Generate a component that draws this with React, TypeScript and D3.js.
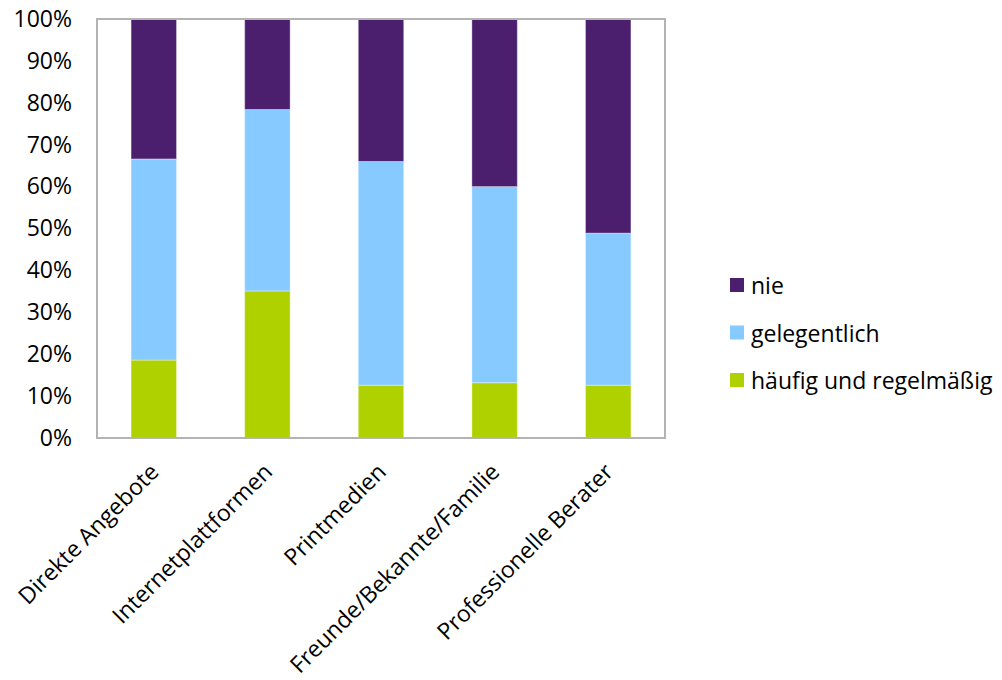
import React, { useEffect, useRef } from 'react';
import * as d3 from 'd3';

// Data
const categories = [
  'Direkte Angebote',
  'Internetplattformen',
  'Printmedien',
  'Freunde/Bekannte/Familie',
  'Professionelle Berater',
];
const haeufig = [18.6, 35.1, 12.6, 13.2, 12.6];
const gelegentlich = [48.0, 43.3, 53.4, 46.8, 36.3];
const nie = [33.4, 21.6, 34.0, 40.0, 51.1];
const seriesNames = ['häufig und regelmäßig', 'gelegentlich', 'nie'];
const yTicks = [0, 10, 20, 30, 40, 50, 60, 70, 80, 90, 100];

const colors = ['#b0d100', '#87caff', '#4b1f6e'];
const FONT = '"Open Sans", sans-serif';
const FONT_SIZE = 23;

export default function App() {
  const ref = useRef<SVGSVGElement>(null);

  useEffect(() => {
    const svg = d3.select(ref.current);
    svg.selectAll('*').remove();

    // Plot area
    const margin = { top: 19, left: 97 };
    const width = 568;
    const height = 419;

    const rows = categories.map((c, i) => ({
      category: c,
      [seriesNames[0]]: haeufig[i],
      [seriesNames[1]]: gelegentlich[i],
      [seriesNames[2]]: nie[i],
    }));
    const stacked = d3.stack<any>().keys(seriesNames)(rows);

    const xScale = d3
      .scaleBand()
      .domain(categories)
      .range([0, width])
      .paddingInner(0.6)
      .paddingOuter(0.3);

    const yScale = d3.scaleLinear().domain([0, 100]).range([height, 0]);

    const g = svg
      .append('g')
      .attr('transform', `translate(${margin.left},${margin.top})`);

    // Bars
    g.selectAll('.series')
      .data(stacked)
      .enter()
      .append('g')
      .attr('class', 'series')
      .attr('fill', (d, i) => colors[i])
      .selectAll('rect')
      .data(d => d)
      .enter()
      .append('rect')
      .attr('x', d => xScale(d.data.category)!)
      .attr('width', xScale.bandwidth())
      .attr('y', d => yScale(d[1]))
      .attr('height', d => yScale(d[0]) - yScale(d[1]))
      .attr('stroke', 'rgba(255,255,255,0.35)')
      .attr('stroke-width', 1);

    // Frame
    g.append('rect')
      .attr('x', 0)
      .attr('y', 0)
      .attr('width', width)
      .attr('height', height)
      .attr('fill', 'none')
      .attr('stroke', '#b3b3b3')
      .attr('stroke-width', 2);

    // Y axis
    const yAxis = d3
      .axisLeft(yScale)
      .tickValues(yTicks)
      .tickSize(0)
      .tickPadding(25)
      .tickFormat(d => `${d}%`);
    const yAxisDraw = g.append('g').call(yAxis);
    yAxisDraw.select('.domain').remove();
    yAxisDraw
      .selectAll('text')
      .attr('font-family', FONT)
      .attr('font-size', FONT_SIZE)
      .attr('fill', '#000');

    // X labels
    g.append('g')
      .selectAll('text')
      .data(categories)
      .enter()
      .append('text')
      .attr('transform', d => {
        const cx = xScale(d)! + xScale.bandwidth() / 2;
        return `translate(${cx},${height + 29}) rotate(-45)`;
      })
      .attr('text-anchor', 'end')
      .attr('dominant-baseline', 'central')
      .attr('font-family', FONT)
      .attr('font-size', FONT_SIZE)
      .attr('fill', '#000')
      .text(d => d);

    // Legend (top to bottom: nie, gelegentlich, häufig)
    const legendOrder = [2, 1, 0];
    const legend = svg
      .append('g')
      .selectAll('g')
      .data(legendOrder)
      .enter()
      .append('g')
      .attr('transform', (d, i) => `translate(730,${285 + i * 47.5})`);
    legend
      .append('rect')
      .attr('x', 0)
      .attr('y', -7)
      .attr('width', 14)
      .attr('height', 14)
      .attr('fill', d => colors[d]);
    legend
      .append('text')
      .attr('x', 21)
      .attr('dominant-baseline', 'central')
      .attr('font-family', FONT)
      .attr('font-size', FONT_SIZE)
      .attr('fill', '#000')
      .text(d => seriesNames[d]);
  }, []);

  return (
    <svg
      ref={ref}
      width={1002}
      height={680}
      style={{ position: 'absolute', left: 0, top: 0, background: '#fff' }}
    />
  );
}
